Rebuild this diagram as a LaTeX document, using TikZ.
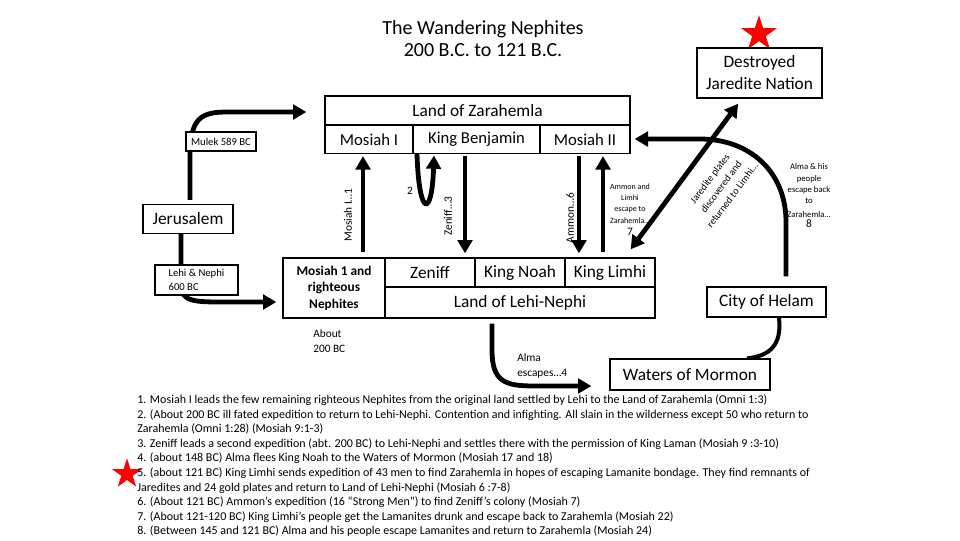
\documentclass[tikz,border=0pt]{standalone}
\usepackage{fontspec}
\setmainfont{Carlito}
\usetikzlibrary{arrows.meta,shapes.geometric}
\newcommand{\fs}[2]{\fontsize{#1}{#2}\selectfont}
\pgfdeclarelayer{bg}
\pgfsetlayers{bg,main}
\begin{document}
\begin{tikzpicture}[x=0.75pt,y=-0.75pt,
  box/.style={draw, line width=1pt, fill=white, inner sep=0pt},
  sz/.style 2 args={minimum width=#1*0.75pt, minimum height=#2*0.75pt},
  big/.style={font=\fs{13pt}{16.5pt}},
  mid/.style={font=\fs{12.5pt}{15pt}},
  small/.style={font=\fs{8.5pt}{11.25pt}},
  arr/.style={line width=3.6pt, -{Triangle[length=10pt,width=11pt]}},
  dblarr/.style={line width=3.6pt, {Triangle[length=10pt,width=11pt]}-{Triangle[length=10pt,width=11pt]}},
  thk/.style={line width=3pt},
  redstar/.style={star, star points=5, star point ratio=2.618, fill=red, inner sep=0pt, draw=none},
  note/.style={anchor=base west, inner sep=0pt, font=\fs{9pt}{11pt}},
]
\useasboundingbox (0,0) rectangle (960,540);

% title and stars
\node[align=center, font=\fs{15pt}{16.5pt}] (title) at (483,39) {The Wandering Nephites\\200 B.C. to 121 B.C.};
\node[redstar, minimum size=28pt] (star1) at (759,34) {};
\node[redstar, minimum size=23.5pt] (star2) at (127,474) {};

% boxes
\node[box, big, align=center, sz={125}{50}] (djn) at (759.5,73) {Destroyed\\Jaredite Nation};
\node[box, big, sz={305}{29}] (zar) at (477.5,110.5) {Land of Zarahemla};
\node[box, mid, sz={88}{28}] (mosI) at (369,139.5) {Mosiah I};
\node[box, mid, sz={127}{28}] (kb) at (476.5,139.5) {King Benjamin};
\node[box, mid, sz={90}{28}] (mosII) at (585,139.5) {Mosiah II};
\node[box, font=\fs{8pt}{10pt}, sz={70}{19}] (mulek) at (221,141.5) {Mulek 589 BC};
\node[box, big, sz={90}{29}] (jer) at (188,219) {Jerusalem};
\node[box, font=\fs{8pt}{10.5pt}, align=left, sz={83}{30}] (lehi) at (196.5,280) {Lehi \& Nephi\\600 BC};
\node[box, font=\bfseries\fs{10pt}{12.4pt}, align=center, sz={102}{60}] (mosrn) at (334,288) {Mosiah 1 and\\righteous\\Nephites};
\node[box, big, sz={90}{29}] (zen) at (430,272.5) {Zeniff};
\node[box, big, sz={90}{29}] (noah) at (520,272.5) {King Noah};
\node[box, big, sz={90}{29}] (lim) at (610,272.5) {King Limhi};
\node[box, big, sz={270}{31}] (lln) at (520,302.5) {Land of Lehi-Nephi};
\node[box, big, sz={119}{30}] (hel) at (766.5,302) {City of Helam};
\node[box, big, sz={160}{31}] (wom) at (690,374.5) {Waters of Mormon};

% connectors
\begin{pgfonlayer}{bg}
\fill[white] (0,0) rectangle (960,540);
\draw[arr, shorten <=3pt, shorten >=13.5pt] (190,0 |- jer.north) -- (190,158) .. controls (190,118) and (200,112) .. (228,112) -- (zar.west |- 0,112);
\draw[arr, shorten >=4.5pt] (181,0 |- jer.south) -- (181,285) .. controls (181,302) and (195,302) .. (225,302) -- (mosrn.west |- 0,302);
\draw[arr, shorten <=4pt, shorten >=1.5pt] (363,0 |- mosrn.north) -- (363,0 |- mosI.south);
\draw[arr, shorten >=1pt] (417,0 |- mosI.south) .. controls (419,218) and (432,218) .. (434,0 |- kb.south);
\draw[arr, shorten <=1.5pt, shorten >=3pt] (465,0 |- kb.south) -- (465,0 |- zen.north);
\draw[arr, shorten <=1.5pt, shorten >=3pt] (579,0 |- mosII.south) -- (579,0 |- lim.north);
\draw[arr, shorten <=4pt, shorten >=1.5pt] (603,0 |- lim.north) -- (603,0 |- mosII.south);
\draw[dblarr] ([xshift=-18.75pt,yshift=6pt]lim.north east) -- ([xshift=-16pt,yshift=-3.75pt]djn.south);
\draw[arr, shorten <=7.5pt, shorten >=3pt] (786,0 |- hel.north) -- (786,222) .. controls (786,170) and (748,139) .. (700,139) -- (mosII.east |- 0,139);
\draw[thk] (779,0 |- hel.south) .. controls (782,345) and (770,356) .. (747,0 |- wom.north);
\draw[arr, shorten <=3.75pt, shorten >=13.5pt] (492,0 |- lln.south) -- (492,350) .. controls (492,382) and (505,386) .. (535,386) -- (wom.west |- 0,386);
\end{pgfonlayer}

% labels
\node[small, rotate=90] (l1) at (348,215) {Mosiah I…1};
\node[small] (l2) at (410,191) {2};
\node[small, rotate=90] (l3) at (448,216) {Zeniff…3};
\node[small, rotate=90] (l6) at (570,218) {Ammon…6};
\node[font=\fs{6pt}{8.5pt}, align=center, anchor=north] (l7) at (630,179) {Ammon and\\Limhi\\escape to\\Zarahemla…};
\node[small] (l7n) at (630,232) {7};
\node[font=\fs{7.5pt}{10.5pt}, rotate=53, align=center] (ljar) at (721,187) {Jaredite plates\\discovered and\\returned to Limhi…};
\node[font=\fs{6.5pt}{8.5pt}, align=center, anchor=north] (l8) at (809,159) {Alma \& his\\people\\escape back\\to\\[2pt]Zarahemla…};
\node[small] (l8n) at (809,224) {8};
\node[small, align=left, anchor=west, inner sep=0pt] (about) at (313,341) {About\\200 BC};
\node[small, align=left, anchor=west, inner sep=0pt] (alma) at (517,366) {Alma\\escapes…4};

% notes
\node[note] (n1) at (137,403.5) {1. Mosiah I leads the few remaining righteous Nephites from the original land settled by Lehi to the Land of Zarahemla (Omni 1:3)};
\node[note] (n2) at (137,418.1) {2. (About 200 BC ill fated expedition to return to Lehi-Nephi. Contention and infighting. All slain in the wilderness except 50 who return to};
\node[note] (n2b) at (137,432.7) {Zarahemla (Omni 1:28) (Mosiah 9:1-3)};
\node[note] (n3) at (137,447.3) {3. Zeniff leads a second expedition (abt. 200 BC) to Lehi-Nephi and settles there with the permission of King Laman (Mosiah 9 :3-10)};
\node[note] (n4) at (137,461.9) {4. (about 148 BC) Alma flees King Noah to the Waters of Mormon (Mosiah 17 and 18)};
\node[note] (n5) at (137,476.5) {5. (about 121 BC) King Limhi sends expedition of 43 men to find Zarahemla in hopes of escaping Lamanite bondage. They find remnants of};
\node[note] (n5b) at (137,491.1) {Jaredites and 24 gold plates and return to Land of Lehi-Nephi (Mosiah 6 :7-8)};
\node[note] (n6) at (137,505.7) {6. (About 121 BC) Ammon’s expedition (16 “Strong Men”) to find Zeniff’s colony (Mosiah 7)};
\node[note] (n7) at (137,520.3) {7. (About 121-120 BC) King Limhi’s people get the Lamanites drunk and escape back to Zarahemla (Mosiah 22)};
\node[note] (n8) at (137,534.9) {8. (Between 145 and 121 BC) Alma and his people escape Lamanites and return to Zarahemla (Mosiah 24)};
\end{tikzpicture}
\end{document}
